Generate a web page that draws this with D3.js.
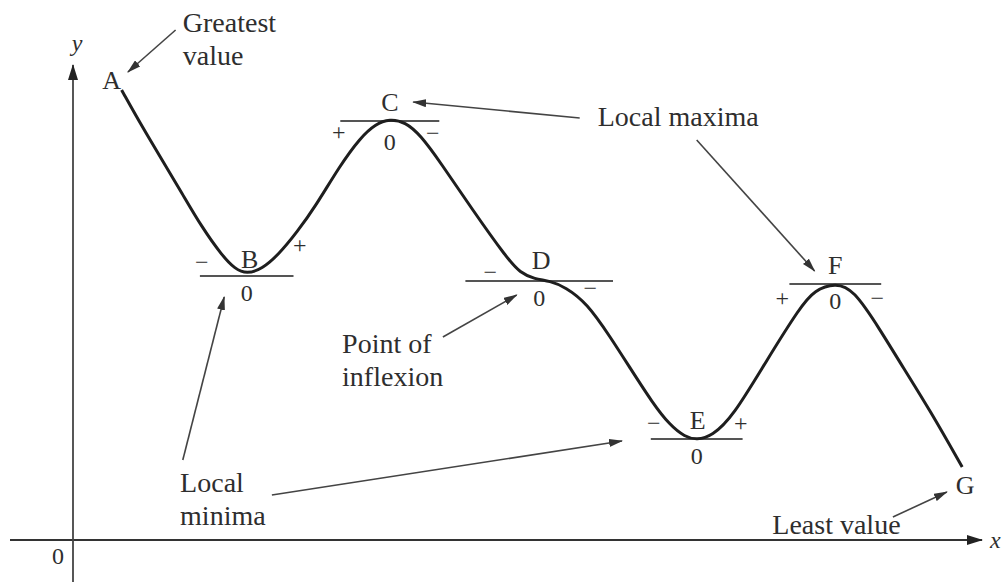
<!DOCTYPE html>
<html>
<head>
<meta charset="utf-8">
<script src="https://cdn.jsdelivr.net/npm/d3@7"></script>
<style>
  body { margin: 0; background: #fff; }
  svg { display: block; }
  text { font-family: "Liberation Serif", "DejaVu Serif", serif; fill: #2e2e2e; }
</style>
</head>
<body>
<svg></svg>
<script>
// Curve readings (arbitrary units, origin at the axes crossing)
const curveX = [5.4, 7.7, 9.9, 12.1, 14.3, 16.6, 18.0, 19.3, 21.0, 22.8, 24.9, 26.9, 29.7, 31.9, 33.6, 35.2,
  36.9, 38.6, 40.8, 44.4, 48.2, 49.7, 51.3, 53.0, 54.7, 57.1, 59.7, 61.9, 64.4, 66.3, 68.0, 69.3,
  71.0, 73.3, 77.1, 80.8, 82.4, 84.7, 86.7, 89.7, 92.2, 95.2, 98.8];
const curveY = [90, 82.6, 76, 69.4, 62.6, 56.8, 54.2, 53.2, 54.2, 57, 61.6, 66.6, 75, 80.4, 83.2, 84.2,
  83.6, 81, 75.6, 66, 56.4, 53.4, 52.2, 51.8, 50.6, 47.4, 40.6, 34.4, 27.4, 23, 20.6, 20.0,
  20.8, 24.6, 36, 46.6, 50.0, 51.4, 50.2, 42, 34.6, 26, 14.6];

// Named points
const pointNames = ["A", "B", "C", "D", "E", "F", "G"];
const pointX = [5.4, 19.3, 35.2, 51.8, 69.3, 84.7, 98.8];
const pointY = [90, 52.8, 83.8, 51.8, 20.2, 51.2, 14.6];
const tangentHalf = [0, 5.2, 5.5, 8.2, 5.1, 5.1, 0];
const leftSign = ["", "\u2212", "+", "\u2212", "\u2212", "+", ""];
const rightSign = ["", "+", "\u2212", "\u2212", "+", "\u2212", ""];

// Annotations: text lines, text anchor (x, first baseline y), arrows [x1, y1, x2, y2]
const noteLines = [["Greatest", "value"], ["Local maxima"], ["Point of", "inflexion"], ["Local", "minima"], ["Least value"]];
const noteX = [12.2, 58.3, 29.9, 11.9, 77.7];
const noteY = [101.6, 82.8, 37.4, 9.6, 1.2];
const noteArrows = [
  [[11.4, 102, 6.1, 93.6]],
  [[56.3, 84.4, 37.8, 87.6], [69.3, 80, 82.4, 53.8]],
  [[41.1, 40.6, 49.3, 49]],
  [[12.2, 16, 16.8, 48.6], [22.1, 9, 61, 19.8]],
  [[91.1, 4.6, 97.1, 9.6]]
];

const w = 1004;
const h = 582;

const svg = d3.select("svg")
  .attr("width", w)
  .attr("height", h);

const x = d3.scaleLinear().domain([0, 100]).range([73, 973]);
const y = d3.scaleLinear().domain([0, 100]).range([540, 40]);

const defs = svg.append("defs");
defs.append("marker")
  .attr("id", "head")
  .attr("markerUnits", "userSpaceOnUse")
  .attr("markerWidth", 14)
  .attr("markerHeight", 8)
  .attr("refX", 13)
  .attr("refY", 4)
  .attr("orient", "auto")
  .append("path")
  .attr("d", "M0,0 L14,4 L0,8 Z")
  .attr("fill", "#333");

defs.append("marker")
  .attr("id", "axisHead")
  .attr("markerUnits", "userSpaceOnUse")
  .attr("markerWidth", 16)
  .attr("markerHeight", 10)
  .attr("refX", 15)
  .attr("refY", 5)
  .attr("orient", "auto")
  .append("path")
  .attr("d", "M0,0 L16,5 L0,10 Z")
  .attr("fill", "#222");

// Axes
const axes = svg.append("g").attr("class", "axes");
axes.append("line")
  .attr("x1", x(-7)).attr("y1", y(0))
  .attr("x2", x(101)).attr("y2", y(0))
  .attr("stroke", "#333").attr("stroke-width", 2)
  .attr("marker-end", "url(#axisHead)");
axes.append("line")
  .attr("x1", x(0)).attr("y1", y(-9))
  .attr("x2", x(0)).attr("y2", y(95))
  .attr("stroke", "#444").attr("stroke-width", 1.8)
  .attr("marker-end", "url(#axisHead)");
axes.append("text")
  .attr("x", x(101) + 8).attr("y", y(0) + 8)
  .attr("font-size", 24).attr("font-style", "italic")
  .text("x");
axes.append("text")
  .attr("x", x(0) + 4).attr("y", y(95) - 14)
  .attr("text-anchor", "middle")
  .attr("font-size", 24).attr("font-style", "italic")
  .text("y");
axes.append("text")
  .attr("x", x(0) - 15).attr("y", y(0) + 24)
  .attr("text-anchor", "middle")
  .attr("font-size", 24)
  .text("0");

// Tangent lines at stationary points
const points = pointNames.map((name, i) => ({
  name, x: pointX[i], y: pointY[i], half: tangentHalf[i], left: leftSign[i], right: rightSign[i]
}));

const tangents = svg.append("g").attr("class", "tangents");
tangents.selectAll("line")
  .data(points.filter((d) => d.half > 0))
  .enter()
  .append("line")
  .attr("x1", (d) => x(d.x - d.half))
  .attr("x2", (d) => x(d.x + d.half))
  .attr("y1", (d) => y(d.y))
  .attr("y2", (d) => y(d.y))
  .attr("stroke", "#555")
  .attr("stroke-width", 2);

// Curve
const line = d3.line()
  .x((d) => x(d[0]))
  .y((d) => y(d[1]))
  .curve(d3.curveBasis);

svg.append("path")
  .datum(curveX.map((v, i) => [v, curveY[i]]))
  .attr("d", line)
  .attr("fill", "none")
  .attr("stroke", "#1e1e1e")
  .attr("stroke-width", 3);

// Point labels
const labelOffset = { A: [-10, -10], B: [3, -17], C: [0, -19], D: [2, -21], E: [1, -19], F: [0, -19], G: [3, 18] };
svg.append("g").selectAll("text")
  .data(points)
  .enter()
  .append("text")
  .attr("x", (d) => x(d.x) + labelOffset[d.name][0])
  .attr("y", (d) => y(d.y) + labelOffset[d.name][1])
  .attr("text-anchor", "middle")
  .attr("dominant-baseline", "central")
  .attr("font-size", 26)
  .text((d) => d.name);

// Zero labels under tangents
svg.append("g").selectAll("text")
  .data(points.filter((d) => d.half > 0))
  .enter()
  .append("text")
  .attr("x", (d) => x(d.x))
  .attr("y", (d) => y(d.y) + (d.name === "C" ? 21 : 17))
  .attr("text-anchor", "middle")
  .attr("dominant-baseline", "central")
  .attr("font-size", 24)
  .text("0");

// Signs of the derivative on each side
const signOffset = {
  B: [[-45, -14], [53, -31]],
  C: [[-51, 11], [43, 12]],
  D: [[-49, -9], [51, 7]],
  E: [[-43, -16], [44, -16]],
  F: [[-53, 14], [42, 14]]
};
const signs = [];
points.filter((d) => d.half > 0).forEach((d) => {
  signs.push({ p: d, s: d.left, o: signOffset[d.name][0] });
  signs.push({ p: d, s: d.right, o: signOffset[d.name][1] });
});
svg.append("g").selectAll("text")
  .data(signs)
  .enter()
  .append("text")
  .attr("x", (d) => x(d.p.x) + d.o[0])
  .attr("y", (d) => y(d.p.y) + d.o[1])
  .attr("text-anchor", "middle")
  .attr("dominant-baseline", "central")
  .attr("font-size", 24)
  .text((d) => d.s);

// Annotations
const notes = svg.append("g").attr("class", "notes");
noteLines.forEach((lines, i) => {
  const t = notes.append("text")
    .attr("x", x(noteX[i]))
    .attr("y", y(noteY[i]))
    .attr("font-size", 28);
  lines.forEach((s, k) => {
    t.append("tspan")
      .attr("x", x(noteX[i]))
      .attr("dy", k === 0 ? 0 : 33)
      .text(s);
  });
  noteArrows[i].forEach((a) => {
    notes.append("line")
      .attr("x1", x(a[0])).attr("y1", y(a[1]))
      .attr("x2", x(a[2])).attr("y2", y(a[3]))
      .attr("stroke", "#444")
      .attr("stroke-width", 1.6)
      .attr("marker-end", "url(#head)");
  });
});
</script>
</body>
</html>
